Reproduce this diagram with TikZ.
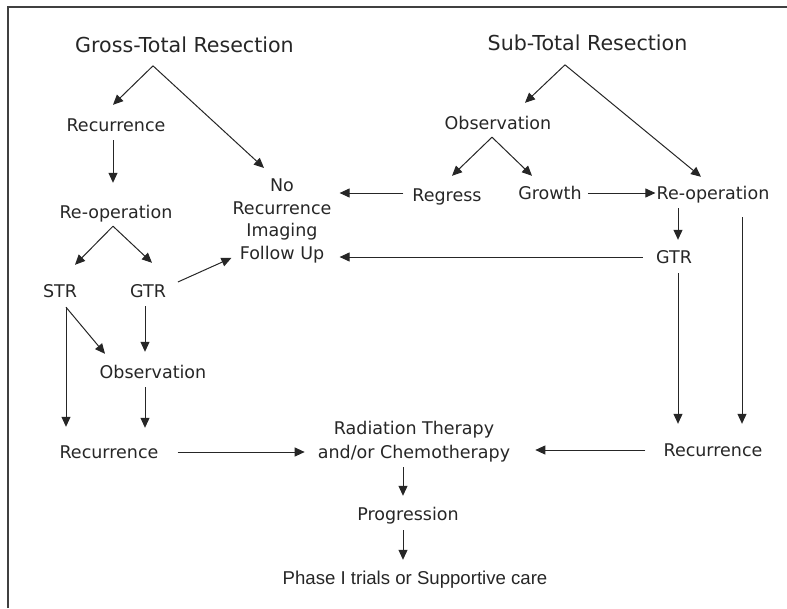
\documentclass[tikz,border=0pt]{standalone}
\usepackage{fontspec}
\setmainfont{DejaVu Sans}
\newfontfamily\helv{Liberation Sans}
\usetikzlibrary{arrows.meta,calc}

\begin{document}
\begin{tikzpicture}[x=1pt,y=-1pt]
\tikzstyle{lbl}=[inner sep=0pt,text=black!85,font=\fontsize{17.5}{22.7}\selectfont]
\tikzstyle{box}=[lbl,text height=13pt,text depth=4pt]
\tikzstyle{title}=[inner sep=0pt,text=black!85,text height=15.5pt,text depth=4.8pt,font=\fontsize{20.6}{24}\selectfont]
\tikzstyle{arr}=[-{Triangle[length=10pt,width=9pt]},line width=1pt,black!85]

\useasboundingbox (0,0) rectangle (787,608);
\draw[line width=1.4pt,black!75] (8,608) -- (8,7) -- (787,7);

% gross-total side
\node[title] (gtr0) at (184.5,47) {Gross-Total Resection};
\node[box] (rec1) at (116,127) {Recurrence};
\node[box] (reop1) at (116,214) {Re-operation};
\node[box] (str1) at (60,293) {STR};
\node[box] (gtr1) at (148,293) {GTR};
\node[box] (obs1) at (153,374) {Observation};
\node[box] (rec2) at (109,454) {Recurrence};
\node[lbl,align=center] (norec) at (282,221) {No\\Recurrence\\Imaging\\Follow Up};

% sub-total side
\node[title] (str0) at (587.5,45) {Sub-Total Resection};
\node[box] (obs2) at (498,125) {Observation};
\node[box] (regr) at (447,197) {Regress};
\node[box] (grow) at (550,195) {Growth};
\node[box] (reop2) at (713,195) {Re-operation};
\node[box] (gtr2) at (674,259) {GTR};
\node[box] (rec3) at (713,452) {Recurrence};

% common end
\node[lbl,align=center,font=\fontsize{17.5}{24}\selectfont] (rt) at (414,442) {Radiation Therapy\\and/or Chemotherapy};
\node[box] (prog) at (408,516) {Progression};
\node[box,font=\helv\fontsize{18.6}{22}\selectfont] (phase) at (415,580) {Phase I trials or Supportive care};

\coordinate (gtra) at ($(gtr0.south)+(-31.5,8.5)$);
\coordinate (stra) at ($(str0.south)+(-22.5,9.5)$);
\coordinate (reopa) at ($(reop1.south)+(-3,3.5)$);
\coordinate (obsa) at ($(obs2.south)+(-6,3.5)$);

\draw[arr] (gtra) -- ($(rec1.north)+(-3,-13.5)$);
\draw[arr] (gtra) -- ($(norec.north)+(-18,-10.6)$);
\draw[arr] ($(rec1.south)+(-3,4.5)$) -- ($(reop1.north)+(-3,-22.5)$);
\draw[arr] (reopa) -- ($(str1.north)+(15,-19.5)$);
\draw[arr] (reopa) -- ($(gtr1.north)+(4,-21.5)$);
\draw[arr] ($(gtr1.east)+(11.8,-11)$) -- ($(norec.south west)+(-1,-5.5)$);
\draw[arr] ($(str1.south)+(6,5.5)$) -- ($(rec2.north)+(-43,-18.5)$);
\draw[arr] ($(str1.south)+(6,5.5)$) -- ($(obs1.north)+(-48,-11.5)$);
\draw[arr] ($(gtr1.south)+(-3,4.5)$) -- ($(obs1.north)+(-8,-13.5)$);
\draw[arr] ($(obs1.south)+(-8,4.5)$) -- ($(rec2.north)+(36,-17.5)$);
\draw[arr] ($(rec2.east)+(19,-2)$) -- ($(rt.west)+(-13,10)$);

\draw[arr] (stra) -- ($(obs2.north)+(27,-13.5)$);
\draw[arr] (stra) -- ($(reop2.north)+(-12,-9.5)$);
\draw[arr] (obsa) -- ($(regr.north)+(5,-12.5)$);
\draw[arr] (obsa) -- ($(grow.north)+(-18,-10.5)$);
\draw[arr] ($(regr.west)+(-9,-4)$) -- ($(norec.east)+(8,-28)$);
\draw[arr] ($(grow.east)+(6,-2)$) -- ($(reop2.west)+(-1,-2)$);
\draw[arr] ($(reop2.south)+(-35,4.5)$) -- ($(gtr2.north)+(4,-10.5)$);
\draw[arr] ($(gtr2.west)+(-13,-2)$) -- ($(norec.east)+(8,36)$);
\draw[arr] ($(gtr2.south)+(4,5.5)$) -- ($(rec3.north)+(-35,-19.5)$);
\draw[arr] ($(reop2.south)+(29,13.5)$) -- ($(rec3.north)+(29,-19.5)$);
\draw[arr] ($(rec3.west)+(-18,-2)$) -- ($(rt.east)+(25,8)$);

\draw[arr] ($(rt.south)+(-11,4.5)$) -- ($(prog.north)+(-5,-11.5)$);
\draw[arr] ($(prog.south)+(-5,5.5)$) -- ($(phase.north)+(-12,-11.5)$);
\end{tikzpicture}
\end{document}
